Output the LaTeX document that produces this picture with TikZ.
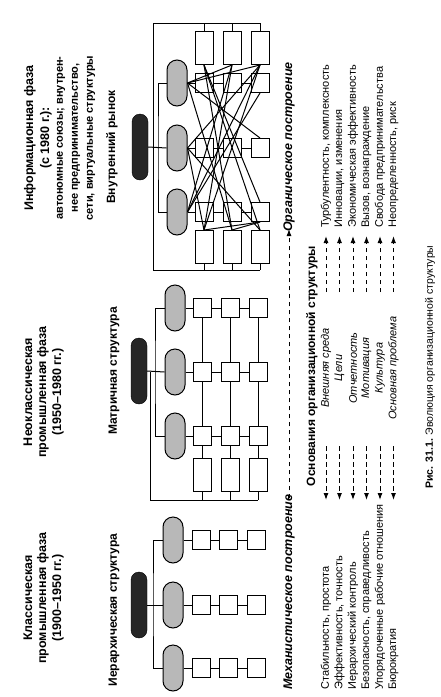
\documentclass[tikz,border=0pt]{standalone}
\usepackage{fontspec}
\setmainfont{Liberation Sans}
\usetikzlibrary{arrows.meta}
\begin{document}
\begin{tikzpicture}[x=1pt,y=-1pt,
  ttl/.style={font=\bfseries\fontsize{12.5}{14}\selectfont, rotate=90, inner sep=0},
  sub/.style={font=\bfseries\fontsize{11}{13}\selectfont, rotate=90, inner sep=0},
  lbl/.style={font=\bfseries\fontsize{12}{14}\selectfont, rotate=90, inner sep=0},
  hdr/.style={font=\bfseries\fontsize{12}{14}\selectfont, rotate=90, inner sep=0},
  body/.style={font=\fontsize{11}{13}\selectfont, rotate=90, inner sep=0},
  ibody/.style={font=\itshape\fontsize{11}{13}\selectfont, rotate=90, inner sep=0},
  bibody/.style={font=\bfseries\itshape\fontsize{12.5}{14}\selectfont, rotate=90, inner sep=0},
  root/.style={draw=black, fill=black!85, rounded corners=8pt, minimum width=16pt, minimum height=66pt, inner sep=0},
  unit/.style={draw=black, line width=1pt, fill=black!28, rounded corners=10pt, minimum width=20pt, minimum height=46pt, inner sep=0},
  sq/.style={draw=black, line width=1pt, fill=white, minimum width=18pt, minimum height=19pt, inner sep=0},
  tall/.style={draw=black, line width=1pt, fill=white, minimum width=18pt, minimum height=33pt, inner sep=0},
  ln/.style={line width=1pt},
  dl/.style={line width=1pt, dash pattern=on 4.5pt off 3.5pt},
  tip/.style={-{Latex[length=7pt,width=5pt]}},
  ]
\useasboundingbox[fill=white] (0,0) rectangle (441,697);

% ---------- titles ----------
\node[ttl] (c1) at (28,598) {Классическая};
\node[ttl] (c2) at (43,598) {промышленная фаза};
\node[ttl] (c3) at (58,598) {(1900--1950 гг.)};
\node[ttl] (n1) at (28,392) {Неоклассическая};
\node[ttl] (n2) at (43,392) {промышленная фаза};
\node[ttl] (n3) at (58,392) {(1950--1980 гг.)};
\node[ttl] (i1) at (30,138) {Информационная фаза};
\node[ttl] (i2) at (46,138) {(с 1980 г.):};
\node[sub] (i3) at (61,138) {автономные союзы; внутрен-};
\node[sub] (i4) at (76,138) {нее предпринимательство,};
\node[sub] (i5) at (91,138) {сети, виртуальные структуры};

\node[lbl] (lh) at (114,610) {Иерархическая структура};
\node[lbl] (lm) at (114,371) {Матричная структура};
\node[lbl] (li) at (112,147) {Внутренний рынок};

% ---------- hierarchy ----------
\node[root] (hb) at (139,605) {};
\foreach \i/\y in {1/540,2/605,3/668} {
  \node[unit] (hp\i) at (173,\y) {};
  \node[sq] (hs\i1) at (201,\y) {};
  \node[sq] (hs\i2) at (228,\y) {};
  \node[sq] (hs\i3) at (256,\y) {};
  \draw[ln] (hp\i) -- (hs\i1) -- (hs\i2) -- (hs\i3);
}
\coordinate (hbr) at (153,605);
\draw[ln] (hb.east) -- (hp2.west);
\draw[ln] (hp1.west) -| (hbr) |- (hp3.west);

% ---------- matrix ----------
\node[root] (mb) at (139,371) {};
\foreach \i/\y in {1/308,2/372,3/436} {
  \node[unit] (mp\i) at (175,\y) {};
  \node[sq] (ms\i1) at (202,\y) {};
  \node[sq] (ms\i2) at (230,\y) {};
  \node[sq] (ms\i3) at (258,\y) {};
  \draw[ln] (mp\i) -- (ms\i1) -- (ms\i2) -- (ms\i3);
}
\foreach \j/\x in {1/202,2/230,3/258} {
  \node[tall] (mt\j) at (\x,475) {};
  \draw[ln] (ms1\j) -- (ms2\j) -- (ms3\j) -- (mt\j);
  \coordinate (mbt\j) at (\x,500);
  \draw[ln] (mt\j.south) -- (mbt\j);
}
\coordinate (mbr) at (155,372);
\coordinate (mo1) at (150,372);
\coordinate (mo2) at (150,500);
\draw[ln] (mb.east) -- (mp2.west);
\draw[ln] (mp1.west) -| (mbr) |- (mp3.west);
\draw[ln] (mo1) -- (mo2) -- (mbt3);

% ---------- information ----------
\node[root] (ib) at (140,147) {};
\foreach \i/\y in {1/83,2/148,3/212} {
  \node[unit] (ip\i) at (177,\y) {};
  \node[sq] (is\i1) at (204,\y) {};
  \node[sq] (is\i2) at (232,\y) {};
  \node[sq] (is\i3) at (260,\y) {};
  \draw[ln] (ip\i) -- (is\i1) -- (is\i2) -- (is\i3);
}
\foreach \j/\x in {1/204,2/232,3/260} {
  \node[tall] (it\j) at (\x,48) {};
  \node[tall] (iq\j) at (\x,247) {};
  \coordinate (itt\j) at (\x,23);
  \coordinate (ibt\j) at (\x,270);
  \draw[ln] (it\j.north) -- (itt\j);
  \draw[ln] (iq\j.south) -- (ibt\j);
}
\coordinate (if1) at (153,23);
\coordinate (if2) at (153,270);
\coordinate (ibr) at (158,148);
\draw[ln] (itt3) -- (if1) -- (if2) -- (ibt3);
\draw[ln] (ib.east) -- (ip2.west);
\draw[ln] (ip1.west) -| (ibr) |- (ip3.west);
% network
\draw[ln] (ip1.east) -- (it3.south);
\draw[ln] (ip1.east) -- (it2.south);
\draw[ln] (ip1.east) -- (is23.north);
\draw[ln] (ip1.east) -- (iq2.north);
\draw[ln] (ip2.east) -- (it3.south);
\draw[ln] (ip2.east) -- (iq1.north);
\draw[ln] (ip2.east) -- (iq3.north);
\draw[ln] (ip3.east) -- (it2.south);
\draw[ln] (ip3.east) -- (it3.south);
\draw[ln] (ip3.east) -- (is13.south);
\draw[ln] (it1.south) -- (iq2.north);
\draw[ln] (it1.south) -- (iq3.north);
\draw[ln] (it1.south) -- (is33.north);
\draw[ln] (it3.south) -- (iq1.north);
\draw[ln] (it2.south) -- (iq1.north);
\draw[ln] (iq1.north) -- (is33.south);
\draw[ln] (iq2.north) -- (is33.south);

% ---------- text block ----------
\node[bibody, anchor=west] (mech) at (289,690) {Механистическое построение};
\node[bibody, anchor=west] (org) at (289,232) {Органическое построение};
\draw[dl, tip] ([yshift=-4pt]mech.east) -- ([yshift=3pt]org.west);

\node[hdr] (osn) at (312,366) {Основания организационной структуры};

\foreach \k/\x/\l/\m/\r in {
  1/326/{Стабильность, простота}/{Внешняя среда}/{Турбулентность, комплексность},
  2/339.5/{Эффективность, точность}/{Цели}/{Инновации, изменения},
  3/353/{Иерархический контроль}/{Отчетность}/{Экономическая эффективность},
  4/366.5/{Безопасность, справедливость}/{Мотивация}/{Вызов, вознаграждение},
  5/380/{Упорядоченные рабочие отношения}/{Культура}/{Свобода предпринимательства},
  6/393.5/{Бюрократия}/{Основная проблема}/{Неопределенность, риск}} {
  \node[body, anchor=west] (L\k) at (\x,690) {\l};
  \node[ibody] (M\k) at (\x,368) {\m};
  \node[body, anchor=west] (R\k) at (\x,228) {\r};
  \coordinate (la\k) at (\x,446);
  \coordinate (lb\k) at (\x,500);
  \coordinate (ra\k) at (\x,292);
  \coordinate (rb\k) at (\x,236);
  \draw[dl, tip] (la\k) -- (lb\k);
  \draw[dl, tip] (ra\k) -- (rb\k);
}

\node[body, font=\fontsize{10.5}{12}\selectfont] (cap) at (430,367) {\textbf{Рис. 31.1.} Эволюция организационной структуры};
\end{tikzpicture}
\end{document}
